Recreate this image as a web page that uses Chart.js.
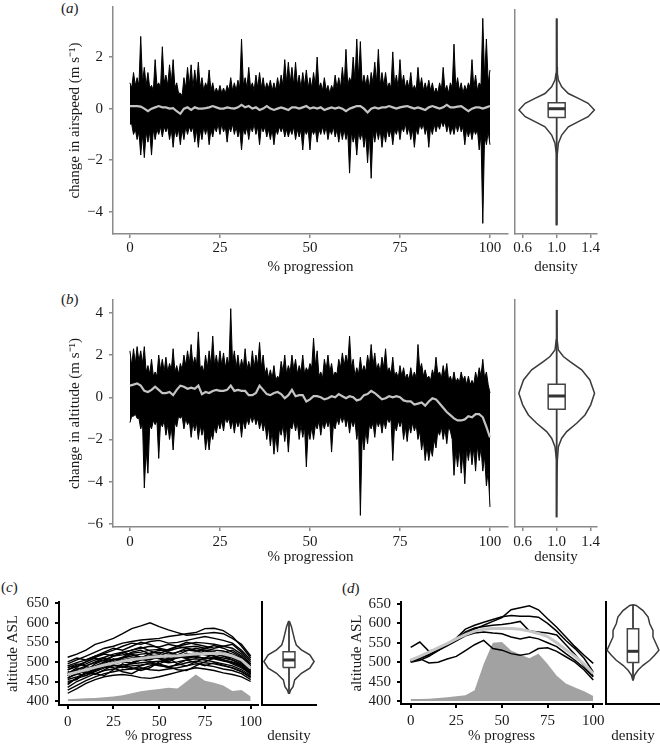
<!DOCTYPE html>
<html>
<head>
<meta charset="utf-8">
<title>Airspeed and altitude over flight progression</title>
<script src="https://cdn.jsdelivr.net/npm/chart.js"></script>
<style>
  body { margin: 0; background: #fff; }
  #fig { position: relative; width: 660px; height: 745px; font-family: 'Liberation Serif', 'Times New Roman', serif; }
  #fig canvas { position: absolute; }
  .tag { position: absolute; font-size: 15px; line-height: 15px; color: #1a1a1a; }
</style>
</head>
<body>
<div id="fig">
  <div class="tag" style="left:61px;top:1px">(<i>a</i>)</div>
  <div class="tag" style="left:61px;top:292px">(<i>b</i>)</div>
  <div class="tag" style="left:1px;top:580px">(<i>c</i>)</div>
  <div class="tag" style="left:342px;top:581px">(<i>d</i>)</div>
  <canvas id="aMain" width="510" height="280" style="left:0;top:0"></canvas>
  <canvas id="aViolin" width="100" height="280" style="left:510px;top:0"></canvas>
  <canvas id="bMain" width="510" height="280" style="left:0;top:290px"></canvas>
  <canvas id="bViolin" width="100" height="280" style="left:510px;top:290px"></canvas>
  <canvas id="cMain" width="272" height="185" style="left:0;top:560px"></canvas>
  <canvas id="cViolin" width="60" height="185" style="left:259px;top:560px"></canvas>
  <canvas id="dMain" width="272" height="185" style="left:340px;top:560px"></canvas>
  <canvas id="dViolin" width="57" height="185" style="left:603px;top:560px"></canvas>
</div>

<script>
// progress axes (percent of the flight)
const pct = Array.from({ length: 101 }, (_, i) => i);
const pctHalf = Array.from({ length: 201 }, (_, i) => i / 2);
const pct5 = Array.from({ length: 21 }, (_, i) => i * 5);

// tick labels
const progTicks = [0, 25, 50, 75, 100];
const airTicks = [-4, -2, 0, 2];
const altTicks = [-6, -4, -2, 0, 2, 4];
const aslTicks = [400, 450, 500, 550, 600, 650];
const densityTicks = [0.6, 1.0, 1.4];

// (a) change in airspeed: upper / lower edge of all tracks every 0.5 %, mean every 1 %
const airUpper = [
  1.0,0.8, 1.4,0.9, 1.2,0.9, 2.8,1.0, 1.6,0.9, 1.4,0.8, 0.9,0.7, 1.9,0.9, 1.0,0.8, 2.4,1.0,
  1.3,0.9, 1.7,1.0, 1.9,0.8, 1.0,0.6, 0.6,0.5, 1.2,0.8, 1.6,0.9, 1.7,0.8, 1.5,0.9, 1.8,0.8,
  1.2,0.7, 1.0,0.8, 1.5,0.7, 1.0,0.6, 0.8,0.6, 0.9,0.6, 0.8,0.6, 0.9,0.7, 1.2,0.7, 1.0,0.7,
  1.1,0.8, 2.7,0.9, 1.2,0.8, 1.6,0.8, 1.0,0.7, 1.3,0.8, 1.4,0.8, 1.2,0.7, 1.0,0.8, 1.1,0.7,
  1.0,0.7, 1.2,0.8, 1.3,0.9, 1.9,1.0, 1.8,1.0, 1.6,0.9, 1.8,0.9, 1.3,0.8, 1.4,0.9, 1.5,0.8,
  1.2,0.8, 1.4,0.9, 2.0,0.8, 1.0,0.7, 1.2,0.7, 0.9,0.6, 0.9,0.7, 1.3,0.8, 1.2,0.8, 1.6,0.9,
  2.3,0.9, 1.2,1.0, 2.0,1.1, 2.7,1.2, 2.6,0.9, 1.3,0.9, 1.3,0.8, 1.4,1.0, 1.8,1.0, 2.3,0.9,
  1.4,0.9, 1.4,0.8, 1.0,0.8, 2.2,0.9, 1.3,0.8, 1.9,0.9, 1.3,0.8, 1.1,0.8, 1.4,0.7, 0.9,0.7,
  1.6,0.8, 1.2,0.7, 1.0,0.7, 1.1,0.7, 1.0,0.6, 0.8,0.6, 1.0,0.7, 1.6,0.7, 0.9,0.6, 1.0,0.8,
  2.5,0.8, 1.2,0.7, 1.0,0.6, 0.9,0.7, 1.0,0.8, 1.9,0.8, 1.3,0.7, 1.0,0.9, 3.5,1.2, 2.7,1.0,
  1.5
];
const airLower = [
  -0.6,-0.6, -1.0,-0.8, -1.2,-0.9, -1.8,-1.0, -1.9,-0.9, -1.3,-0.9, -1.8,-0.8, -1.2,-0.8, -1.0,-0.7, -1.1,-0.7,
  -0.9,-0.7, -1.2,-0.8, -1.5,-0.8, -1.1,-0.8, -1.4,-0.8, -1.2,-0.7, -1.0,-0.7, -0.9,-0.7, -1.3,-0.8, -1.5,-0.8,
  -1.2,-0.7, -1.0,-0.7, -1.4,-0.8, -1.1,-0.7, -0.9,-0.6, -1.0,-0.6, -0.9,-0.7, -1.3,-0.7, -0.9,-0.6, -1.0,-0.7,
  -1.1,-0.8, -1.6,-0.8, -1.0,-0.7, -1.2,-0.7, -0.9,-0.6, -1.0,-0.7, -1.4,-0.7, -0.9,-0.7, -1.1,-0.8, -1.2,-0.8,
  -1.4,-0.8, -1.0,-0.7, -0.9,-0.7, -1.1,-0.8, -1.1,-0.8, -1.0,-0.7, -1.2,-0.8, -1.1,-0.8, -1.6,-0.8, -1.0,-0.8,
  -1.6,-0.8, -1.0,-0.8, -1.3,-0.8, -1.0,-0.7, -1.0,-0.7, -1.2,-0.8, -1.0,-0.7, -1.1,-0.8, -1.3,-0.8, -1.2,-0.8,
  -1.2,-0.9, -2.5,-0.9, -1.3,-1.0, -1.8,-0.9, -1.2,-0.9, -1.5,-1.0, -2.1,-1.0, -2.7,-0.9, -1.3,-0.8, -1.2,-0.8,
  -1.5,-0.9, -1.3,-0.8, -1.1,-0.8, -1.4,-0.8, -1.0,-0.7, -1.2,-0.7, -0.9,-0.6, -1.0,-0.7, -1.2,-0.8, -1.5,-0.8,
  -1.0,-0.6, -0.8,-0.6, -1.0,-0.7, -1.5,-0.7, -1.0,-0.6, -0.9,-0.6, -0.8,-0.5, -0.7,-0.5, -0.9,-0.6, -1.0,-0.7,
  -1.0,-0.6, -0.9,-0.6, -0.9,-0.7, -1.4,-0.8, -1.1,-0.8, -1.2,-0.8, -1.0,-0.8, -1.6,-1.0, -4.45,-1.0, -1.4,-0.9,
  -1.4
];
const airMean = [
  0.1, 0.1, 0.1, 0.08, 0.0, -0.1, 0.0, 0.05, 0.1, 0.05,
  0.05, 0.0, 0.02, -0.1, -0.2, 0.0, 0.05, -0.05, 0.05, 0.0,
  0.0, 0.02, 0.05, 0.1, 0.05, 0.0, 0.0, 0.05, 0.02, 0.0,
  0.05, 0.15, 0.05, 0.1, 0.0, 0.05, -0.05, 0.0, 0.1, 0.0,
  -0.05, 0.0, 0.05, 0.0, -0.05, 0.05, 0.05, 0.0, 0.05, 0.1,
  0.0, 0.05, 0.0, 0.05, -0.05, 0.0, 0.05, 0.0, 0.05, 0.0,
  -0.1, 0.0, 0.05, 0.1, 0.1, 0.0, -0.15, 0.0, 0.05, 0.0,
  0.05, 0.05, 0.1, 0.05, 0.0, 0.05, 0.08, 0.1, 0.05, 0.0,
  0.05, 0.0, -0.05, 0.05, 0.1, 0.05, 0.0, 0.05, 0.15, 0.05,
  0.05, 0.08, 0.1, 0.0, -0.1, 0.0, 0.05, 0.05, 0.0, 0.05,
  0.1
];

// (b) change in altitude
const altUpper = [
  2.2,1.5, 2.3,1.6, 2.4,1.7, 2.2,1.6, 2.4,1.2, 1.5,1.1, 1.8,1.0, 1.2,1.0, 2.0,1.3, 1.8,1.2,
  1.9,1.2, 1.6,1.3, 2.3,1.2, 1.5,1.1, 1.6,1.3, 2.0,1.5, 2.2,1.6, 2.5,1.5, 1.9,1.5, 3.1,1.4,
  1.5,1.2, 2.0,1.4, 2.2,1.5, 2.9,1.5, 2.0,1.4, 2.2,1.5, 2.1,1.4, 1.9,1.5, 4.2,1.6, 2.2,1.4,
  2.0,1.3, 1.8,1.4, 2.3,1.3, 1.7,1.3, 2.2,1.4, 2.0,1.5, 2.6,1.4, 2.0,1.1, 1.4,0.9, 1.3,0.9,
  1.5,0.8, 1.0,0.9, 1.7,1.2, 2.0,1.1, 1.5,1.2, 2.0,1.3, 1.8,1.1, 1.5,1.2, 2.0,1.1, 1.4,1.2,
  1.6,1.4, 2.8,1.5, 2.2,1.0, 1.2,0.9, 1.8,1.3, 2.0,1.2, 1.6,1.0, 1.2,1.1, 1.8,1.4, 2.1,1.5,
  2.0,1.6, 2.9,1.4, 1.8,1.0, 1.4,1.1, 1.9,1.2, 1.5,1.2, 2.0,1.5, 2.5,1.5, 2.1,1.3, 1.6,1.2,
  1.9,1.4, 2.3,1.2, 1.4,1.1, 1.9,1.0, 1.2,0.9, 1.5,1.0, 1.4,0.9, 1.1,0.8, 1.4,0.9, 1.2,0.9,
  2.5,1.3, 1.6,1.0, 1.3,0.9, 1.0,0.8, 1.3,1.0, 1.9,1.1, 1.2,0.9, 1.5,1.0, 1.6,0.8, 1.0,0.7,
  1.2,0.7, 0.9,0.7, 1.2,0.8, 1.0,0.6, 1.0,0.6, 0.8,0.6, 1.2,0.8, 1.4,1.0, 1.8,0.9, 1.2,0.6,
  0.2
];
const altLower = [
  -1.2,-0.9, -0.9,-0.8, -1.0,-1.0, -1.5,-1.2, -4.3,-2.5, -3.6,-1.3, -1.5,-1.1, -1.3,-1.1, -2.9,-1.2, -1.4,-1.1,
  -1.8,-1.3, -2.0,-1.4, -2.5,-1.2, -1.4,-0.9, -1.0,-0.9, -1.5,-1.0, -1.3,-1.1, -1.9,-1.2, -1.6,-1.2, -2.0,-1.3,
  -1.8,-1.4, -2.5,-1.8, -2.5,-1.7, -2.0,-1.4, -1.7,-1.2, -1.5,-1.1, -1.6,-1.0, -1.2,-1.0, -1.5,-1.1, -1.7,-1.1,
  -1.4,-1.1, -1.9,-1.1, -1.5,-1.0, -1.3,-0.9, -1.2,-0.9, -1.3,-1.0, -1.5,-1.1, -1.6,-1.2, -2.0,-1.4, -2.3,-1.6,
  -2.7,-1.8, -2.6,-1.5, -1.8,-1.3, -2.1,-1.4, -2.6,-1.4, -1.5,-1.1, -1.6,-1.2, -2.0,-1.3, -1.9,-1.4, -3.3,-1.6,
  -2.0,-1.4, -2.0,-1.3, -1.5,-1.1, -1.8,-1.2, -1.5,-1.1, -1.4,-1.1, -2.6,-1.3, -1.5,-1.0, -1.3,-0.9, -1.2,-0.9,
  -1.4,-1.0, -1.7,-1.1, -1.4,-1.1, -2.0,-1.4, -5.6,-1.8, -2.5,-1.6, -2.2,-1.3, -1.5,-1.2, -1.9,-1.1, -1.4,-1.1,
  -1.7,-1.1, -1.5,-1.0, -1.2,-1.0, -3.0,-1.3, -1.6,-1.1, -1.4,-1.1, -2.0,-1.4, -2.1,-1.3, -1.7,-1.2, -1.6,-1.3,
  -2.0,-1.6, -2.5,-2.0, -3.0,-2.3, -3.0,-2.4, -2.8,-2.0, -2.4,-1.6, -1.8,-1.4, -2.0,-1.5, -2.2,-1.4, -1.6,-2.0,
  -3.7,-2.5, -3.3,-2.4, -3.6,-2.6, -4.1,-2.4, -3.0,-2.3, -3.2,-2.4, -3.5,-2.3, -3.0,-2.4, -3.5,-2.8, -4.2,-3.5,
  -5.2
];
const altMean = [
  0.55, 0.6, 0.65, 0.55, 0.3, 0.25, 0.35, 0.5, 0.35, 0.2,
  0.2, 0.25, 0.1, 0.35, 0.55, 0.5, 0.4, 0.45, 0.4, 0.55,
  0.15, 0.25, 0.2, 0.3, 0.35, 0.3, 0.3, 0.35, 0.55, 0.3,
  0.35, 0.3, 0.3, 0.1, 0.1, 0.2, 0.55, 0.35, 0.15, 0.1,
  0.2, 0.25, 0.15, -0.05, 0.1, 0.35, 0.05, 0.1, 0.1, -0.2,
  -0.1, 0.05, 0.05, 0.0, -0.1, -0.05, 0.05, 0.0, 0.15, 0.05,
  -0.05, 0.05, 0.0, -0.15, -0.1, 0.1, 0.15, 0.3, 0.2, 0.05,
  -0.1, -0.05, 0.05, 0.0, 0.05, 0.0, -0.15, -0.2, -0.2, -0.35,
  -0.3, -0.25, -0.4, -0.2, -0.05, -0.1, -0.3, -0.5, -0.7, -0.85,
  -1.0, -1.1, -1.1, -1.05, -0.9, -0.95, -0.8, -0.8, -0.95, -1.4,
  -1.9
];

// violins: value levels (top to bottom) and half widths in density units
const airViolinY = [3.5, 1.63, 1.37, 1.11, 0.85, 0.59, 0.40, 0.21, -0.05, -0.31, -0.50, -0.70, -1.02, -1.34, -1.73, -1.99, -4.5];
const airViolinW = [0.002, 0.004, 0.008, 0.02, 0.059, 0.137, 0.255, 0.37, 0.443, 0.37, 0.255, 0.137, 0.059, 0.02, 0.008, 0.004, 0.002];
const airBox = [-0.34, 0.0, 0.23]; // q1, median, q3
const altViolinY = [4.14, 2.72, 2.24, 1.93, 1.69, 1.30, 0.82, 0.19, -0.36, -0.84, -1.23, -1.63, -1.94, -2.34, -2.97, -3.76, -5.69];
const altViolinW = [0.002, 0.005, 0.02, 0.078, 0.157, 0.294, 0.39, 0.445, 0.4, 0.333, 0.235, 0.118, 0.059, 0.02, 0.008, 0.003, 0.002];
const altBox = [-0.57, 0.06, 0.62];

// (c) altitude ASL of individual tracks, every 5 %
const c01 = [512, 520, 530, 545, 552, 560, 572, 585, 592, 600, 590, 582, 575, 568, 570, 573, 575, 572, 560, 545, 515];
const c02 = [495, 505, 515, 525, 535, 540, 548, 552, 556, 558, 560, 565, 568, 572, 575, 585, 586, 580, 565, 540, 510];
const c03 = [490, 498, 505, 515, 522, 530, 540, 548, 545, 552, 555, 548, 550, 555, 560, 565, 560, 555, 548, 530, 505];
const c04 = [480, 488, 495, 505, 512, 520, 525, 530, 535, 540, 538, 545, 540, 545, 550, 548, 545, 540, 535, 520, 495];
const c05 = [470, 480, 490, 498, 505, 515, 518, 522, 525, 530, 532, 528, 535, 538, 540, 535, 530, 528, 520, 510, 490];
const c06 = [465, 475, 482, 490, 500, 505, 510, 515, 520, 522, 525, 520, 525, 530, 528, 530, 525, 520, 512, 500, 480];
const c07 = [460, 468, 478, 485, 492, 500, 505, 510, 512, 515, 518, 512, 515, 520, 522, 518, 515, 510, 505, 495, 475];
const c08 = [455, 462, 470, 480, 488, 495, 500, 498, 505, 508, 510, 505, 510, 515, 512, 510, 508, 502, 498, 488, 470];
const c09 = [445, 458, 465, 475, 485, 490, 492, 495, 498, 500, 502, 498, 500, 505, 508, 505, 500, 495, 490, 480, 465];
const c10 = [435, 450, 460, 470, 478, 482, 488, 490, 492, 495, 490, 488, 492, 498, 502, 498, 495, 490, 485, 475, 460];
const c11 = [428, 440, 452, 462, 470, 475, 480, 482, 485, 480, 478, 482, 485, 490, 495, 492, 488, 482, 478, 470, 455];
const c12 = [420, 432, 445, 455, 462, 466, 468, 465, 460, 458, 462, 468, 474, 480, 485, 482, 478, 472, 468, 462, 450];
const c13 = [475, 470, 465, 478, 490, 485, 475, 470, 482, 490, 495, 488, 480, 478, 490, 500, 510, 505, 495, 485, 470];
const c14 = [485, 495, 490, 500, 510, 505, 512, 525, 530, 520, 510, 515, 525, 535, 530, 520, 518, 525, 530, 515, 490];
const c15 = [450, 455, 475, 470, 465, 480, 495, 485, 478, 485, 500, 510, 495, 490, 500, 510, 520, 515, 505, 492, 475];
const c16 = [500, 510, 505, 515, 525, 535, 530, 540, 550, 545, 535, 530, 540, 550, 545, 540, 535, 540, 545, 525, 500];
const c17 = [470, 485, 478, 495, 505, 498, 510, 520, 512, 505, 515, 525, 518, 510, 520, 528, 522, 515, 510, 498, 478];
const c18 = [458, 472, 488, 482, 495, 508, 502, 495, 505, 515, 508, 500, 512, 522, 515, 508, 512, 505, 498, 490, 468];
const c19 = [480, 492, 500, 510, 502, 515, 525, 518, 510, 522, 530, 525, 518, 528, 535, 530, 526, 518, 512, 502, 485];
const c20 = [442, 460, 472, 468, 480, 492, 488, 482, 490, 498, 492, 485, 495, 505, 498, 490, 498, 492, 484, 475, 462];
const c21 = [490, 488, 500, 512, 520, 515, 522, 530, 538, 528, 520, 532, 540, 535, 528, 535, 542, 535, 525, 512, 495];
const c22 = [465, 478, 470, 485, 498, 492, 485, 498, 508, 500, 495, 505, 515, 508, 515, 522, 515, 505, 500, 492, 472];
const cMean = [468, 474, 480, 486, 492, 497, 502, 506, 509, 512, 514, 515, 516, 518, 520, 521, 522, 521, 515, 505, 484];
const cArea = [405, 406, 407, 408, 410, 412, 415, 420, 425, 428, 431, 434, 432, 450, 468, 452, 447, 440, 426, 428, 412];
const cViolinY = [603, 590, 573, 556, 543, 531, 518, 501, 484, 471, 454, 437, 428, 420];
const cViolinW = [0.02, 0.09, 0.15, 0.21, 0.27, 0.46, 0.77, 0.93, 0.77, 0.46, 0.21, 0.15, 0.06, 0.02];
const cBox = [486, 505, 526];

// (d)
const d01 = [500, 505, 515, 530, 545, 558, 575, 585, 595, 605, 615, 635, 640, 645, 635, 612, 590, 565, 540, 518, 497];
const d02 = [502, 510, 520, 532, 548, 562, 585, 595, 603, 610, 617, 620, 618, 618, 616, 600, 580, 556, 535, 510, 475];
const d03 = [538, 552, 528, 535, 548, 560, 578, 588, 592, 595, 597, 600, 605, 580, 578, 575, 570, 545, 520, 490, 465];
const d04 = [505, 510, 518, 530, 542, 555, 568, 575, 578, 575, 573, 565, 560, 565, 560, 550, 540, 522, 505, 485, 462];
const d05 = [501, 509, 498, 500, 508, 515, 530, 545, 556, 535, 531, 522, 518, 522, 535, 537, 528, 514, 500, 480, 454];
const dMean = [505, 515, 526, 537, 548, 560, 571, 580, 585, 587, 587, 587, 585, 580, 574, 566, 550, 532, 515, 495, 471];
const dArea = [405, 405, 406, 408, 410, 412, 415, 428, 495, 550, 552, 530, 520, 510, 522, 495, 465, 445, 435, 425, 413];
const dViolinY = [648, 646, 633, 616, 599, 582, 565, 548, 531, 518, 505, 492, 480, 467, 454];
const dViolinW = [0.0, 0.12, 0.37, 0.56, 0.62, 0.74, 0.74, 0.85, 0.96, 0.8, 0.62, 0.37, 0.19, 0.06, 0.01];
const dBox = [499, 528, 586];

const ink = '#1a1a1a';
Chart.defaults.font.family = "'Liberation Serif', 'Times New Roman', serif";
Chart.defaults.font.size = 15;
Chart.defaults.color = ink;

const minus = v => String(v).replace('-', '\u2212');
const xy = (xs, ys) => ys.map((y, i) => ({ x: xs[i], y: y }));

// one axis, with its size fixed so the panels line up
function scale(o) {
  return {
    type: 'linear',
    min: o.min,
    max: o.max,
    afterBuildTicks: s => { s.ticks = o.ticks.map(v => ({ value: v })); },
    afterFit: s => {
      if (o.w !== undefined) s.width = o.w;
      if (o.h !== undefined) s.height = o.h;
      s.paddingTop = s.paddingBottom = s.paddingLeft = s.paddingRight = 0;
    },
    grid: {
      drawOnChartArea: false, drawTicks: o.labels, tickLength: 4,
      color: o.color, tickColor: o.color, lineWidth: o.lw, tickWidth: o.lw
    },
    border: { color: o.color, width: o.lw },
    ticks: {
      display: o.labels, padding: o.pad || 0, autoSkip: false, maxRotation: 0,
      color: ink, callback: o.fmt || minus
    },
    title: { display: !!o.title, text: o.title || '', color: ink, padding: o.titlePad || 0 }
  };
}

function baseOptions(padding, x, y) {
  return {
    responsive: false,
    animation: false,
    events: [],
    layout: { padding: padding },
    elements: { point: { radius: 0 }, line: { tension: 0 } },
    plugins: { legend: { display: false }, tooltip: { enabled: false } },
    scales: { x: x, y: y }
  };
}

function bandChart(id, o) {
  new Chart(document.getElementById(id), {
    type: 'line',
    data: {
      datasets: [
        { data: xy(pct, o.mean), borderColor: '#c4c4c4', borderWidth: 2.2 },
        { data: xy(pctHalf, o.upper), borderColor: '#000', borderWidth: 1, backgroundColor: '#000', fill: '+1' },
        { data: xy(pctHalf, o.lower), borderColor: '#000', borderWidth: 1 }
      ]
    },
    options: baseOptions(
      { top: o.top, right: 2 },
      scale({ min: -4.7, max: 105, ticks: progTicks, h: o.xh, labels: true, pad: o.xpad,
              color: '#8a8a8a', lw: 1.5, title: '% progression', titlePad: 4 }),
      scale({ min: o.ymin, max: o.ymax, ticks: o.yticks, w: 113, labels: true, pad: 6,
              color: '#8a8a8a', lw: 1.5, title: o.ytitle, titlePad: 66 })
    )
  });
}

function violinDatasets(c, ys, ws, box, bw) {
  const right = ys.map((y, i) => ({ x: c + ws[i], y: y }));
  const left = ys.map((y, i) => ({ x: c - ws[i], y: y })).reverse();
  const outline = right.concat(left, [right[0]]);
  const lo = ys[ys.length - 1], hi = ys[0];
  const rect = [
    { x: c - bw, y: box[0] }, { x: c + bw, y: box[0] },
    { x: c + bw, y: box[2] }, { x: c - bw, y: box[2] }, { x: c - bw, y: box[0] }
  ];
  return [
    { data: [{ x: c - bw, y: box[1] }, { x: c + bw, y: box[1] }], showLine: true, borderColor: '#333', borderWidth: 3 },
    { data: rect, showLine: true, borderColor: '#444', borderWidth: 1.5, backgroundColor: '#fff', fill: 'shape' },
    { data: [{ x: c, y: lo }, { x: c, y: hi }], showLine: true, borderColor: '#3a3a3a', borderWidth: 1.8 },
    { data: outline, showLine: true, borderColor: '#3a3a3a', borderWidth: 1.5 }
  ];
}

function violinChart(id, o) {
  new Chart(document.getElementById(id), {
    type: 'scatter',
    data: { datasets: violinDatasets(o.c, o.ys, o.ws, o.box, o.bw) },
    options: baseOptions(
      { top: o.top, right: o.right },
      scale({ min: o.xmin, max: o.xmax, ticks: o.xticks, h: o.xh, labels: o.xlabels, pad: o.xpad,
              fmt: v => v.toFixed(1), color: o.color, lw: o.lw, title: 'density', titlePad: o.titlePad }),
      scale({ min: o.ymin, max: o.ymax, ticks: o.yticks, w: o.yw, labels: false, color: o.color, lw: o.lw })
    )
  });
}

function tracksChart(id, o) {
  const sets = [{ data: o.mean, borderColor: '#c6c6c6', borderWidth: 3 }];
  o.tracks.forEach(t => sets.push({ data: t, borderColor: '#000', borderWidth: o.tw }));
  sets.push({ data: o.area, borderColor: 'rgba(0,0,0,0)', borderWidth: 0, backgroundColor: '#a2a2a2', fill: { value: 400 } });
  new Chart(document.getElementById(id), {
    type: 'line',
    data: { labels: pct5, datasets: sets },
    options: baseOptions(
      { top: 42, right: o.right },
      scale({ min: o.xmin, max: o.xmax, ticks: progTicks, h: o.xh, labels: true, pad: 4,
              color: '#000', lw: 2, title: '% progress', titlePad: 0 }),
      scale({ min: o.ymin, max: o.ymax, ticks: aslTicks, w: o.yw, labels: true, pad: 6,
              color: '#000', lw: 2, title: 'altitude ASL', titlePad: o.titlePad })
    )
  });
}

bandChart('aMain', { mean: airMean, upper: airUpper, lower: airLower, top: 7, xh: 46, xpad: 1,
  ymin: -4.86, ymax: 3.94, yticks: airTicks, ytitle: 'change in airspeed (m s\u207B\u00B9)' });
violinChart('aViolin', { c: 1, ys: airViolinY, ws: airViolinW, box: airBox, bw: 0.1,
  top: 10, right: 13, xmin: 0.51, xmax: 1.474, xticks: densityTicks, xh: 46, xlabels: true, xpad: 1,
  titlePad: 4, ymin: -4.86, ymax: 3.83, yticks: airTicks, yw: 5, color: '#8a8a8a', lw: 1.5 });

bandChart('bMain', { mean: altMean, upper: altUpper, lower: altLower, top: 10, xh: 43, xpad: 2,
  ymin: -6.15, ymax: 4.61, yticks: altTicks, ytitle: 'change in altitude (m s\u207B\u00B9)' });
violinChart('bViolin', { c: 1, ys: altViolinY, ws: altViolinW, box: altBox, bw: 0.1,
  top: 10, right: 13, xmin: 0.51, xmax: 1.474, xticks: densityTicks, xh: 43, xlabels: true, xpad: 2,
  titlePad: 4, ymin: -6.15, ymax: 4.61, yticks: altTicks, yw: 5, color: '#8a8a8a', lw: 1.5 });

tracksChart('cMain', { mean: cMean, area: cArea, tw: 1.4, right: 14, xh: 40, yw: 59, titlePad: 4,
  tracks: [c01, c02, c03, c04, c05, c06, c07, c08, c09, c10, c11, c12, c13, c14, c15, c16,
           c17, c18, c19, c20, c21, c22],
  xmin: -4.75, xmax: 104, ymin: 390, ymax: 653 });
violinChart('cViolin', { c: 0, ys: cViolinY, ws: cViolinW, box: cBox, bw: 0.22,
  top: 42, right: 3, xmin: -1, xmax: 1, xticks: [0], xh: 40, xlabels: false, xpad: 0,
  titlePad: 0, ymin: 390, ymax: 653, yticks: aslTicks, yw: 3, color: '#000', lw: 2 });

tracksChart('dMain', { mean: dMean, area: dArea, tw: 1.5, right: 10, xh: 41, yw: 61, titlePad: 8,
  tracks: [d01, d02, d03, d04, d05],
  xmin: -5.3, xmax: 104.8, ymin: 392.3, ymax: 655 });
violinChart('dViolin', { c: 0, ys: dViolinY, ws: dViolinW, box: dBox, bw: 0.21,
  top: 42, right: 0, xmin: -1, xmax: 1, xticks: [0], xh: 41, xlabels: false, xpad: 0,
  titlePad: 0, ymin: 392.3, ymax: 655, yticks: aslTicks, yw: 3, color: '#000', lw: 2 });
</script>
</body>
</html>
